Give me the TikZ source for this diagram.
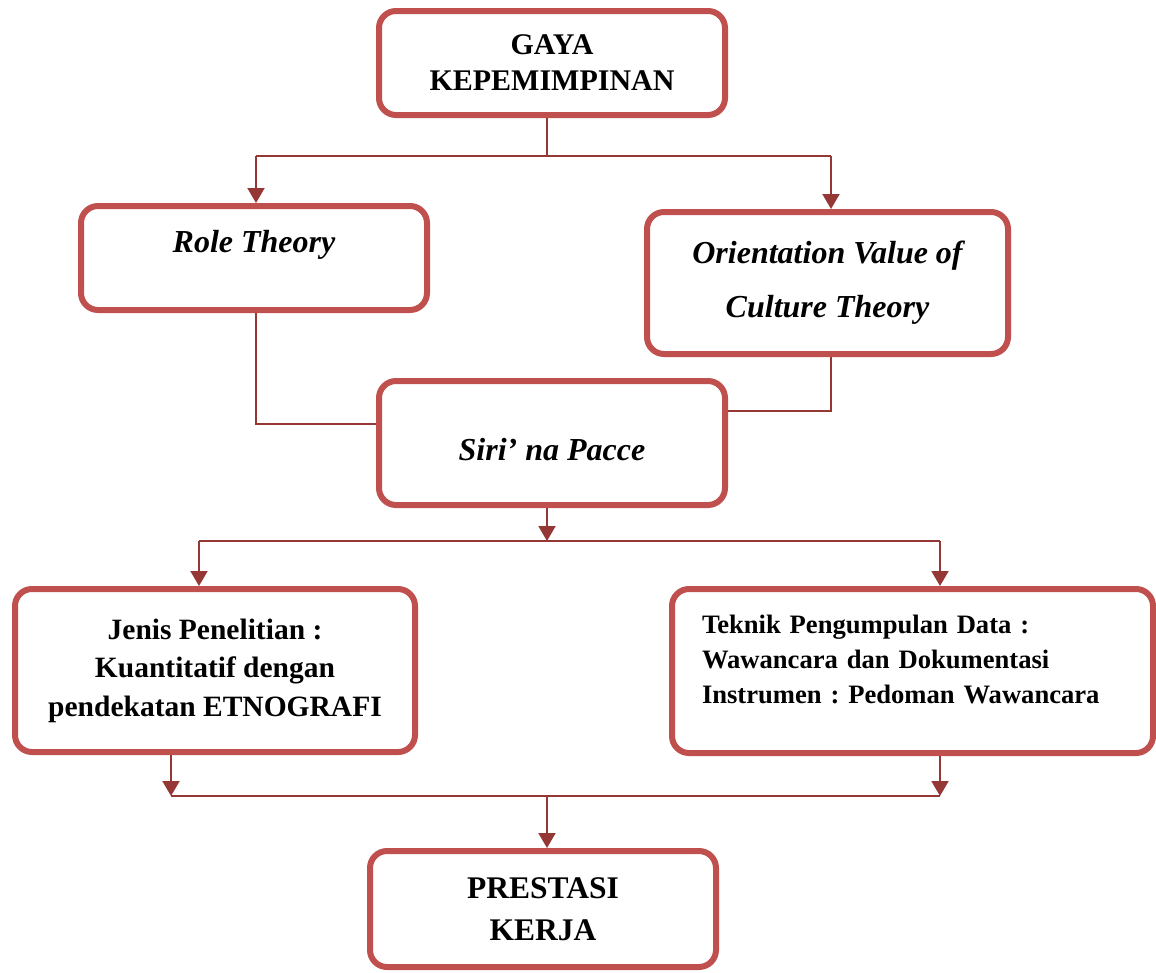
\documentclass[tikz,border=0pt]{standalone}
\usepackage{fontspec}
\setmainfont{Liberation Serif}
\frenchspacing
\usetikzlibrary{arrows.meta, positioning}
\definecolor{boxred}{RGB}{192,80,77}
\definecolor{linkred}{RGB}{149,55,53}

\begin{document}
\begin{tikzpicture}[x=1pt, y=-1pt,
		box/.style={draw=boxred, line width=6pt, rounded corners=17pt, inner sep=0pt, align=center},
		link/.style={draw=linkred, line width=2pt},
		arrowlink/.style={link, -{Triangle[length=15pt, width=17pt]}}]
		\useasboundingbox (0,0) rectangle (1156,972);
		% boxes
		\node [box, minimum width=346pt, minimum height=104pt, font=\fontsize{30}{36}\selectfont\bfseries] (gaya) at (552,63) {GAYA\\KEPEMIMPINAN};
		\node [box, minimum width=346pt, minimum height=104pt, text height=22pt, text depth=34pt, font=\fontsize{32}{38}\selectfont\bfseries\itshape] (role) at (254,258) {Role Theory};
		\node [box, minimum width=361pt, minimum height=142pt, font=\fontsize{32}{54}\selectfont\bfseries\itshape] (orient) at (827.5,283) {Orientation Value of\\Culture Theory};
		\node [box, minimum width=346pt, minimum height=124pt, text height=34pt, text depth=0pt, font=\fontsize{32}{38}\selectfont\bfseries\itshape] (siri) at (552,443) {Siri’ na Pacce};
		\node [box, minimum width=400pt, minimum height=163pt, font=\fontsize{29.5}{38.5}\selectfont\bfseries] (jenis) at (215,670.5) {Jenis Penelitian :\\Kuantitatif dengan\\pendekatan ETNOGRAFI};
		\node [box, align=left, text width=421pt, inner xsep=30pt, minimum height=164pt, text height=18pt, text depth=94pt, font=\fontsize{26.6}{35}\selectfont\bfseries] (teknik) at (912.5,671) {Teknik Pengumpulan Data :\\Wawancara dan Dokumentasi\\Instrumen : Pedoman Wawancara};
		\node [box, minimum width=346pt, minimum height=116pt, font=\fontsize{31.5}{42}\selectfont\bfseries] (prestasi) at (543,909) {PRESTASI\\KERJA};
		
		% branch points
		\coordinate (split1) at (547,156);
		\coordinate (split1l) at (256,156);
		\coordinate (split1r) at (831,156);
		\coordinate (joinl) at (256,424);
		\coordinate (joinr) at (831,411);
		\coordinate (split2) at (547,541);
		\coordinate (split2l) at (199,541);
		\coordinate (split2r) at (940,541);
		\coordinate (mergel) at (171,796);
		\coordinate (merger) at (940,796);
		\coordinate (merge) at (547,796);
		
		% top split
		\draw [link] (gaya.south -| split1) -- (split1);
		\draw [link] (split1l) -- (split1r);
		\draw [arrowlink] (split1l) -- (split1l |- role.north);
		\draw [arrowlink] (split1r) -- (split1r |- orient.north);
		% theories into siri na pacce
		\draw [link] (role.south -| joinl) -- (joinl) -- (joinl -| siri.west);
		\draw [link] (orient.south -| joinr) -- (joinr) -- (joinr -| siri.east);
		% second split
		\draw [arrowlink] (siri.south -| split2) -- (split2);
		\draw [link] (split2l) -- (split2r);
		\draw [arrowlink] (split2l) -- (split2l |- jenis.north);
		\draw [arrowlink] (split2r) -- (split2r |- teknik.north);
		% merge
		\draw [arrowlink] (jenis.south -| mergel) -- (mergel);
		\draw [arrowlink] (teknik.south -| merger) -- (merger);
		\draw [link] (mergel) -- (merger);
		\draw [arrowlink] (merge) -- (merge |- prestasi.north);
	\end{tikzpicture}
\end{document}
